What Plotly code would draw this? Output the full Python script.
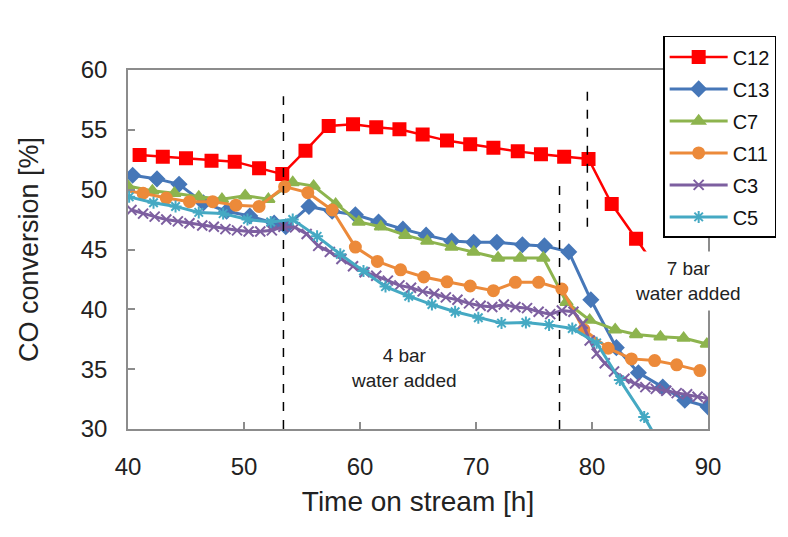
import plotly.graph_objects as go

# ---- data ----
c12_x = [41.0, 43.0, 45.0, 47.2, 49.2, 51.3, 53.3, 55.3, 57.3, 59.4, 61.4, 63.4, 65.4, 67.5, 69.5,
         71.5, 73.6, 75.6, 77.6, 79.7, 81.7, 83.8, 85.9]
c12_y = [52.9, 52.76, 52.62, 52.42, 52.34, 51.8, 51.3, 53.26, 55.32, 55.46, 55.21, 55.05, 54.6, 54.1,
         53.8, 53.5, 53.2, 52.96, 52.76, 52.56, 48.8, 45.9, 43.0]

c13_x = [40.4, 42.5, 44.4, 46.5, 48.5, 50.5, 52.6, 53.6, 55.6, 57.6, 59.6, 61.6, 63.7, 65.7, 67.9,
         69.8, 71.8, 74.0, 75.9, 78.0, 79.9, 82.1, 84.0, 86.1, 88.0, 90.0]
c13_y = [51.2, 50.9, 50.45, 48.9, 48.2, 47.8, 47.2, 46.9, 48.6, 48.2, 47.9, 47.3, 46.7, 46.2, 45.7,
         45.6, 45.6, 45.4, 45.3, 44.8, 40.8, 36.8, 34.7, 33.5, 32.4, 31.85]

c7_x = [40.0, 42.1, 44.0, 46.1, 48.1, 50.1, 52.1, 54.2, 56.0, 57.9, 59.9, 61.8, 63.9, 65.8, 67.9,
        69.8, 71.9, 73.8, 75.8, 77.8, 79.8, 82.0, 83.8, 85.9, 87.9, 89.9]
c7_y = [50.3, 49.9, 49.7, 49.4, 49.2, 49.5, 49.2, 50.6, 50.3, 48.8, 47.3, 46.9, 46.2, 45.7, 45.2,
        44.8, 44.3, 44.3, 44.3, 40.6, 39.1, 38.3, 37.9, 37.7, 37.6, 37.1]

c11_x = [39.3, 41.3, 43.3, 45.3, 47.3, 49.3, 51.3, 53.5, 55.5, 57.6, 59.6, 61.5, 63.5, 65.5, 67.5,
         69.5, 71.5, 73.4, 75.4, 77.4, 79.3, 81.4, 83.4, 85.4, 87.3, 89.3]
c11_y = [50.0, 49.7, 49.3, 49.0, 49.0, 48.7, 48.6, 50.25, 49.75, 48.3, 45.2, 44.0, 43.3, 42.7, 42.3,
         41.95, 41.56, 42.26, 42.26, 41.7, 38.3, 36.75, 35.86, 35.72, 35.36, 34.88]

c3_x = [40.3, 41.3, 42.3, 43.3, 44.3, 45.3, 46.4, 47.4, 48.4, 49.4, 50.4, 51.4, 52.4, 53.4, 54.4,
        55.4, 56.4, 57.4, 58.4, 59.4, 60.4, 61.4, 62.4, 63.4, 64.4, 65.4, 66.4, 67.4, 68.4, 69.4,
        70.4, 71.4, 72.4, 73.4, 74.4, 75.4, 76.4, 77.4, 78.4, 79.2, 79.8, 80.4, 81.1, 81.9, 82.8,
        83.7, 84.6, 85.5, 86.4, 87.3, 88.2, 89.1, 90.0]
c3_y = [48.3, 48.0, 47.75, 47.5, 47.35, 47.2, 47.0, 46.9, 46.7, 46.6, 46.5, 46.5, 46.6, 46.9, 46.85,
        46.3, 45.3, 44.8, 44.2, 43.6, 43.1, 42.8, 42.4, 42.0, 41.8, 41.5, 41.3, 41.0, 40.8, 40.5,
        40.3, 40.2, 40.4, 40.2, 40.1, 39.8, 39.6, 39.9, 39.8, 38.8, 37.4, 36.3, 35.5, 34.8, 34.2,
        33.8, 33.5, 33.35, 33.2, 33.0, 32.9, 32.7, 32.55]

c5_x = [40.1, 42.2, 44.1, 46.1, 48.2, 50.3, 52.3, 54.2, 56.3, 58.3, 60.3, 62.2, 64.2, 66.2, 68.2,
        70.2, 72.2, 74.3, 76.3, 78.3, 80.4, 82.4, 84.5, 86.6]
c5_y = [49.4, 48.9, 48.6, 48.1, 48.0, 47.5, 47.3, 47.5, 46.1, 44.6, 43.2, 41.9, 41.1, 40.4, 39.8,
        39.3, 38.85, 38.9, 38.7, 38.4, 37.2, 34.1, 31.0, 27.5]

water_4bar_x = [53.4, 77.2]
water_7bar_x = [79.6]

FONT = "Arial, Liberation Sans, sans-serif"

series = [
    ("C12", c12_x, c12_y, "#FF0000", "square", 12, 2.5),
    ("C13", c13_x, c13_y, "#4677B8", "diamond", 11, 3),
    ("C7", c7_x, c7_y, "#8DB44E", "triangle-up", 11, 3),
    ("C11", c11_x, c11_y, "#EC8A3A", "circle", 11, 3),
    ("C3", c3_x, c3_y, "#7D5FA0", "x-thin-open", 10, 3),
    ("C5", c5_x, c5_y, "#45A9C3", "asterisk-open", 10, 3),
]

fig = go.Figure()
for name, xs, ys, col, sym, ms, lw in series:
    fig.add_trace(go.Scatter(
        x=xs, y=ys, name=name, mode="lines+markers", legendgroup=name,
        line=dict(color=col, width=lw),
        marker=dict(symbol=sym, size=ms, color=col, line=dict(color=col, width=2)),
    ))

# dashed lines
fig.add_shape(type="line", x0=water_4bar_x[0], x1=water_4bar_x[0], y0=30, y1=57.8,
              xref="x", yref="y", line=dict(color="black", width=1.5, dash="dash"))
fig.add_shape(type="line", x0=water_4bar_x[1], x1=water_4bar_x[1], y0=30, y1=51.0,
              xref="x", yref="y", line=dict(color="black", width=1.5, dash="dash"))
fig.add_shape(type="line", x0=water_7bar_x[0], x1=water_7bar_x[0], y0=46.9, y1=58.9,
              xref="x", yref="y", line=dict(color="black", width=1.5, dash="dash"))

fig.add_annotation(x=63.8, y=35.1, xref="x", yref="y", text="4 bar<br>water added",
                   showarrow=False, font=dict(family=FONT, size=19, color="#222"))
fig.add_annotation(x=88.3, y=42.4, xref="x", yref="y", text="7 bar<br>water added",
                   showarrow=False, font=dict(family=FONT, size=19, color="#222"),
                   bgcolor="white", borderpad=6)

axis_common = dict(showgrid=False, zeroline=False, showline=True, linecolor="#8C8C8C",
                   linewidth=1.5, mirror=True, ticks="inside", ticklen=7, tickwidth=1.5,
                   tickcolor="#8C8C8C", tickfont=dict(family=FONT, size=24, color="#222"))

fig.update_xaxes(range=[40, 90], dtick=10, tick0=40, ticklabelstandoff=15,
                 title=dict(text="Time on stream [h]", font=dict(family=FONT, size=28, color="#222"),
                            standoff=13),
                 **axis_common)
fig.update_yaxes(range=[30, 60], dtick=5, tick0=30, ticklabelstandoff=14,
                 title=dict(text="CO conversion [%]", font=dict(family=FONT, size=27, color="#222"),
                            standoff=34),
                 **axis_common)

fig.update_layout(
    width=780, height=529, autosize=False,
    margin=dict(l=120, r=78, t=62, b=108),
    plot_bgcolor="white", paper_bgcolor="white",
    font=dict(family=FONT, color="#222"),
    legend=dict(x=0.9227, y=1.095, xanchor="left", yanchor="top",
                bgcolor="white", bordercolor="black", borderwidth=1.5,
                font=dict(family=FONT, size=20, color="#111"),
                tracegroupgap=3, traceorder="grouped", itemwidth=58),
)

fig.write_html("out.html")
